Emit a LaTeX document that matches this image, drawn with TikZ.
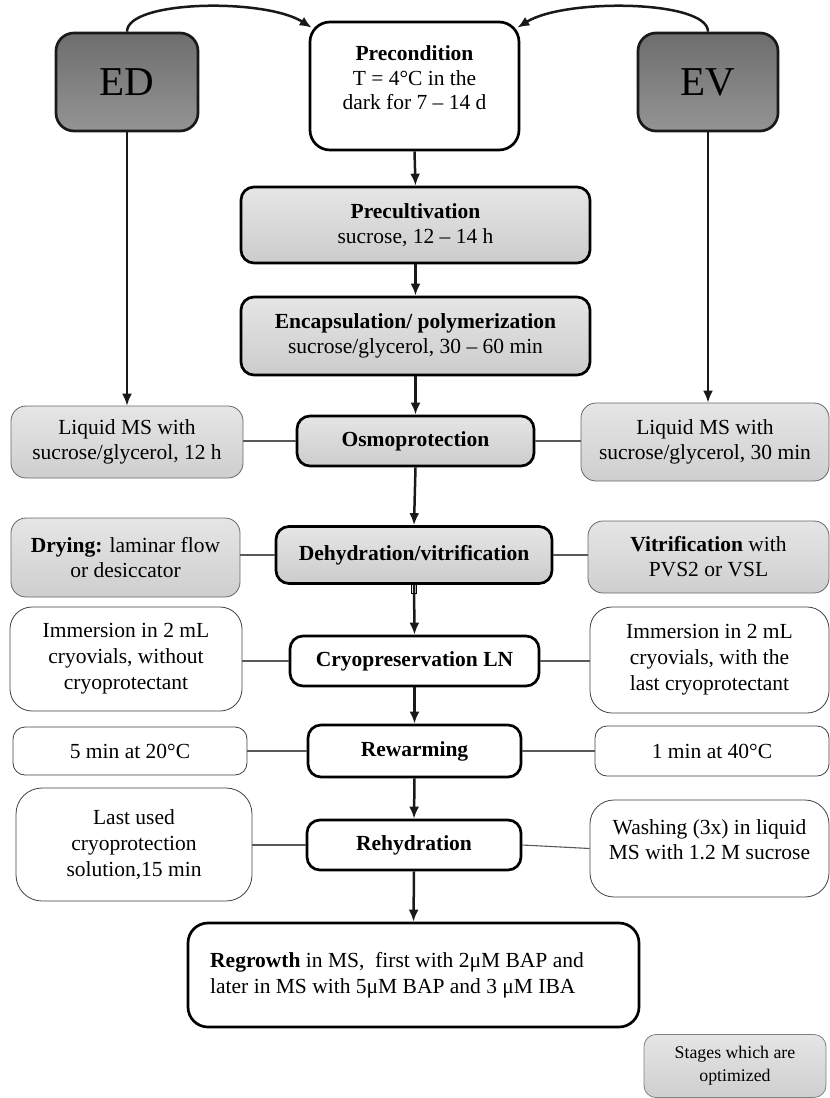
\documentclass[tikz,border=0pt]{standalone}
\usepackage{fontspec}
\setmainfont{Liberation Serif}
\usetikzlibrary{arrows.meta,shadings}
\begin{document}
\begin{tikzpicture}[x=1pt,y=-1pt,
  every node/.style={font=\fontsize{21.5}{25}\selectfont, inner sep=0pt, align=center},
  mainbox/.style={draw=black, line width=2.7pt, rounded corners=13pt, top color=black!10, bottom color=black!20},
  whitemain/.style={draw=black, line width=2.7pt, rounded corners=13pt, fill=white},
  edbox/.style={draw=black!90, line width=2.7pt, rounded corners=18pt, top color=black!57, bottom color=black!42, font=\fontsize{41}{45}\selectfont},
  sidegray/.style={draw=black!60, line width=0.8pt, rounded corners=15pt, top color=black!10, bottom color=black!19},
  sidewhite/.style={draw=black!75, line width=0.8pt, rounded corners=16pt, fill=white},
  flow/.style={-{Latex[length=12pt,width=10pt]}, line width=2.5pt, black!90},
  sideline/.style={draw=black!65, line width=1.1pt},
  txt/.style={inner sep=0pt}
]
\useasboundingbox (0,0) rectangle (830,1098);

% top row
\node[edbox, minimum width=142pt, minimum height=98pt] (ed) at (127,82) {ED};
\node[edbox, minimum width=140pt, minimum height=98pt] (ev) at (708,82) {EV};
\node[whitemain, rounded corners=20pt, minimum width=209pt, minimum height=128pt] (pre) at (414.5,86) {};
\node[txt, font=\fontsize{21.5}{24.5}\selectfont] (pretxt) at (414.5,78) {\textbf{Precondition}\\T = 4°C in the\\dark for 7 – 14 d};

% central column
\node[mainbox, minimum width=349pt, minimum height=76pt] (precult) at (415.5,225) {\textbf{Precultivation}\\sucrose, 12 – 14 h};
\node[mainbox, minimum width=349pt, minimum height=78pt] (encaps) at (415.5,336) {\textbf{Encapsulation/ polymerization}\\sucrose/glycerol, 30 – 60 min};
\node[mainbox, minimum width=237pt, minimum height=50pt] (osmo) at (415.5,441) {\textbf{Osmoprotection}};
\node[mainbox, minimum width=276pt, minimum height=57pt] (dehy) at (414,555) {\textbf{Dehydration/vitrification}};
\node[whitemain, minimum width=249pt, minimum height=50pt] (cryo) at (414.5,661) {\textbf{Cryopreservation LN}};
\node[whitemain, minimum width=213pt, minimum height=52pt] (rew) at (414.5,751) {\textbf{Rewarming}};
\node[whitemain, minimum width=214pt, minimum height=50pt] (rehy) at (414,845) {\textbf{Rehydration}};
\node[whitemain, rounded corners=20pt, minimum width=451pt, minimum height=104pt] (regrow) at (413.5,975) {};
\node[txt, anchor=west, align=left, font=\fontsize{21.5}{26}\selectfont] (regtxt) at (210,975) {\textbf{Regrowth} in MS,\ \ first with 2μM BAP and\\later in MS with 5μM BAP and 3 μM IBA};

% left column
\node[sidegray, minimum width=232pt, minimum height=72pt] (liqL) at (127,442) {Liquid MS with\\sucrose/glycerol, 12 h};
\node[sidegray, minimum width=229pt, minimum height=79pt] (dry) at (125.5,557.5) {\textbf{Drying:} laminar flow\\or desiccator};
\node[sidewhite, rounded corners=22pt, minimum width=232pt, minimum height=104pt, font=\fontsize{21.5}{26}\selectfont] (immL) at (126,659) {Immersion in 2 mL\\cryovials, without\\cryoprotectant};
\node[sidewhite, rounded corners=12pt, minimum width=234pt, minimum height=48pt] (fiveL) at (130,751) {5 min at 20°C};
\node[sidewhite, rounded corners=26pt, minimum width=236pt, minimum height=113pt, font=\fontsize{21.5}{26}\selectfont] (lastL) at (134,844.5) {Last used\\cryoprotection\\solution,15 min};

% right column
\node[sidegray, minimum width=248pt, minimum height=78pt] (liqR) at (705,442) {Liquid MS with\\sucrose/glycerol, 30 min};
\node[sidegray, minimum width=241pt, minimum height=72pt] (vit) at (708.5,557) {\textbf{Vitrification} with\\PVS2 or VSL};
\node[sidewhite, rounded corners=22pt, minimum width=239pt, minimum height=106pt, font=\fontsize{21.5}{26}\selectfont] (immR) at (709.5,660) {Immersion in 2 mL\\cryovials, with the\\last cryoprotectant};
\node[sidewhite, rounded corners=12pt, minimum width=234pt, minimum height=50pt] (oneR) at (712,751) {1 min at 40°C};
\node[sidewhite, rounded corners=24pt, minimum width=239pt, minimum height=97pt] (wash) at (709.5,848.5) {};
\node[txt] (washtxt) at (709.5,840) {Washing (3x) in liquid\\MS with 1.2 M sucrose};

% legend
\node[sidegray, draw=black!50, rounded corners=12pt, minimum width=182pt, minimum height=63pt, font=\fontsize{17.8}{23}\selectfont] (legend) at (735,1066) {Stages which are\\optimized};

% curved arrows to precondition
\draw[flow] (ed.north) .. controls (127,0) and (265,-2) .. ([xshift=3pt,yshift=-7pt]pre.north west);
\draw[flow] (ev.north) .. controls (708,0) and (565,-2) .. ([xshift=-3pt,yshift=-7pt]pre.north east);

% central flow
\draw[flow] (pre.south) -- (precult.north);
\draw[flow] (precult.south) -- (encaps.north);
\draw[flow] (encaps.south) -- (osmo.north);
\draw[flow] (osmo.south) -- (dehy.north);
\draw[flow] (dehy.south) -- (cryo.north);
\draw[line width=0.9pt] ([xshift=-2.5pt]dehy.south) rectangle ([xshift=2.5pt,yshift=-9pt]dehy.south);
\draw[flow] (cryo.south) -- (rew.north);
\draw[flow] (rew.south) -- (rehy.north);
\draw[flow] (rehy.south) -- (regrow.north);

% ED / EV down arrows
\draw[flow, line width=2.1pt] (ed.south) -- (ed.south |- liqL.north);
\draw[flow, line width=2.1pt] (ev.south) -- (ev.south |- liqR.north);

% side connectors
\draw[sideline] (osmo.west) -- (osmo.west -| liqL.east);
\draw[sideline] (osmo.east) -- (osmo.east -| liqR.west);
\draw[sideline] (dehy.west) -- (dehy.west -| dry.east);
\draw[sideline] (dehy.east) -- (dehy.east -| vit.west);
\draw[sideline] (cryo.west) -- (cryo.west -| immL.east);
\draw[sideline] (cryo.east) -- (cryo.east -| immR.west);
\draw[sideline] (rew.west) -- (rew.west -| fiveL.east);
\draw[sideline] (rew.east) -- (rew.east -| oneR.west);
\draw[sideline] (rehy.west) -- (rehy.west -| lastL.east);
\draw[sideline] (rehy.east) -- (wash.west);
\end{tikzpicture}
\end{document}
